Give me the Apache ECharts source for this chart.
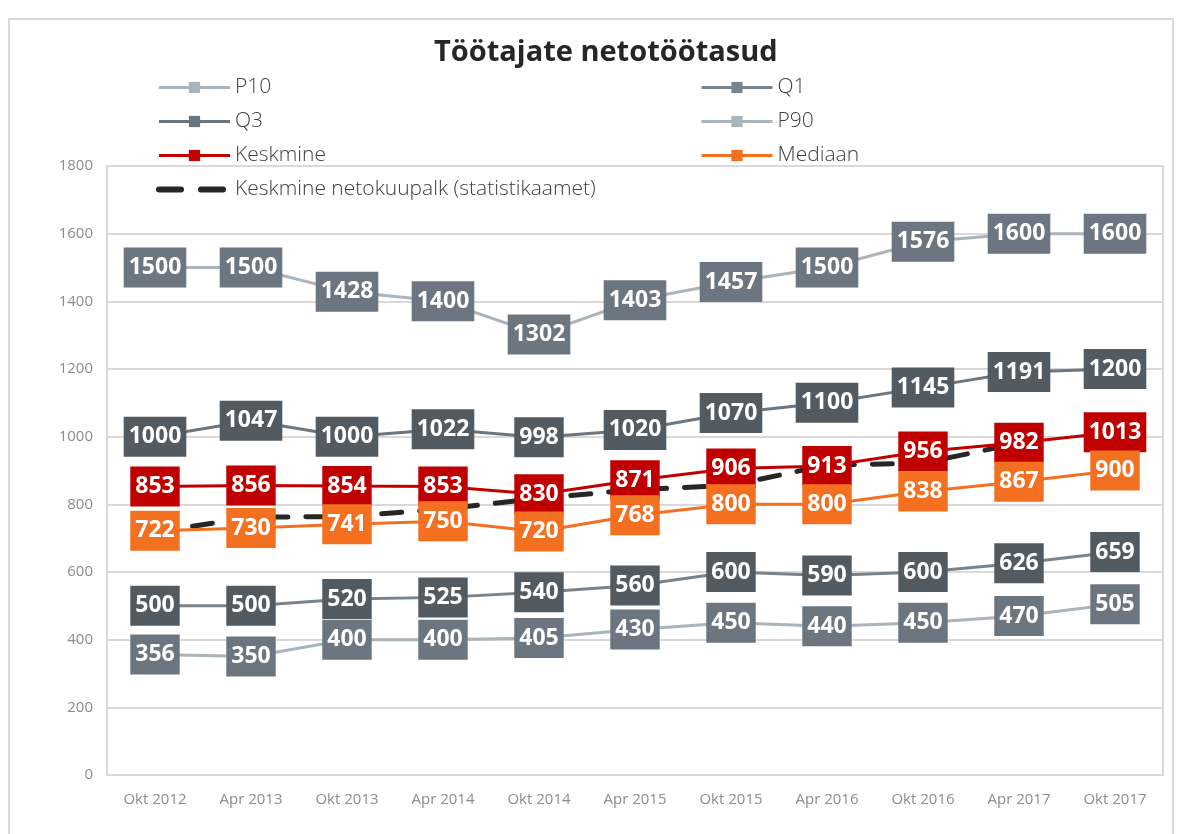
<!DOCTYPE html>
<html>
<head>
<meta charset="utf-8">
<script src="https://cdn.jsdelivr.net/npm/echarts@6/dist/echarts.min.js"></script>
<style>
  html, body { margin: 0; padding: 0; background: #fff; }
  #frame { position: absolute; left: 8px; top: 18px; width: 1162px; height: 830px; border: 2px solid #d9d9d9; }
  #main { position: absolute; left: 0; top: 0; width: 1182px; height: 834px; }
</style>
</head>
<body>
<div id="frame"></div>
<div id="main"></div>
<script>
// andmed
var categories = ['Okt 2012', 'Apr 2013', 'Okt 2013', 'Apr 2014', 'Okt 2014', 'Apr 2015',
                  'Okt 2015', 'Apr 2016', 'Okt 2016', 'Apr 2017', 'Okt 2017'];
var p10 = [356, 350, 400, 400, 405, 430, 450, 440, 450, 470, 505];
var q1 = [500, 500, 520, 525, 540, 560, 600, 590, 600, 626, 659];
var q3 = [1000, 1047, 1000, 1022, 998, 1020, 1070, 1100, 1145, 1191, 1200];
var p90 = [1500, 1500, 1428, 1400, 1302, 1403, 1457, 1500, 1576, 1600, 1600];
var keskmine = [853, 856, 854, 853, 830, 871, 906, 913, 956, 982, 1013];
var mediaan = [722, 730, 741, 750, 720, 768, 800, 800, 838, 867, 900];
var statistikaamet = [718, 762, 764, 786, 818, 843, 856, 916, 922, 981, null];

var myChart = echarts.init(document.getElementById('main'));

function boxLabel(bg) {
    return {
        show: true,
        position: 'inside',
        color: '#fff',
        fontFamily: 'Open Sans',
        fontWeight: 'bold',
        fontSize: 23,
        lineHeight: 26,
        backgroundColor: bg,
        padding: [7, 5]
    };
}

function lineSeries(name, data, lineColor, boxColor) {
    return {
        name: name,
        type: 'line',
        data: data,
        symbol: 'rect',
        symbolSize: 11,
        itemStyle: { color: lineColor },
        lineStyle: { color: lineColor, width: 3 },
        label: boxLabel(boxColor),
        emphasis: { disabled: true }
    };
}

var legendText = { color: '#404040', fontSize: 21, fontFamily: 'Open Sans', fontWeight: 300 };
var statName = 'Keskmine netokuupalk (statistikaamet)';

option = {
    animation: false,
    title: {
        text: 'Töötajate netotöötasud',
        left: 429,
        top: 33,
        textStyle: { color: '#262626', fontSize: 29, fontWeight: 'bold', fontFamily: 'Open Sans' }
    },
    legend: [{
        data: ['P10', 'Q3', 'Keskmine', {
            name: statName,
            lineStyle: { width: 6, type: [22, 20], cap: 'round' }
        }],
        orient: 'vertical',
        left: 151,
        top: 72,
        itemWidth: 71,
        itemHeight: 14,
        itemGap: 13,
        lineStyle: { width: 3 },
        textStyle: legendText
    }, {
        data: ['Q1', 'P90', 'Mediaan'],
        orient: 'vertical',
        left: 695,
        top: 72,
        itemWidth: 71,
        itemHeight: 14,
        itemGap: 13,
        lineStyle: { width: 3 },
        textStyle: legendText
    }],
    grid: {
        left: 107,
        right: 19,
        top: 166,
        bottom: 59,
        show: true,
        borderColor: '#d9d9d9',
        borderWidth: 2
    },
    xAxis: {
        type: 'category',
        data: categories,
        boundaryGap: true,
        axisLine: { show: false },
        axisTick: { show: false },
        axisLabel: { color: '#8c8c8c', fontSize: 15, fontFamily: 'Open Sans', margin: 17 }
    },
    yAxis: {
        type: 'value',
        min: 0,
        max: 1800,
        interval: 200,
        axisLine: { show: false },
        axisTick: { show: false },
        axisLabel: {
            color: '#8c8c8c', fontSize: 15, fontFamily: 'Open Sans', margin: 14,
            formatter: function (v) { return String(v); }
        },
        splitLine: { lineStyle: { color: '#d9d9d9', width: 2 } }
    },
    series: [
        lineSeries('P10', p10, '#a9b4bb', '#6c7680'),
        lineSeries('Q1', q1, '#78838d', '#525a62'),
        lineSeries('Q3', q3, '#6c7680', '#525a62'),
        lineSeries('P90', p90, '#a9b4bb', '#6c7680'),
        lineSeries('Keskmine', keskmine, '#c00000', '#c00000'),
        lineSeries('Mediaan', mediaan, '#f37021', '#f37021'),
        {
            name: statName,
            type: 'line',
            data: statistikaamet,
            symbol: 'none',
            z: 1,
            itemStyle: { color: 'rgba(0,0,0,0)' },
            lineStyle: { color: '#262626', width: 5, type: [20, 18], cap: 'round' },
            emphasis: { disabled: true }
        }
    ]
};

myChart.setOption(option);
</script>
</body>
</html>
